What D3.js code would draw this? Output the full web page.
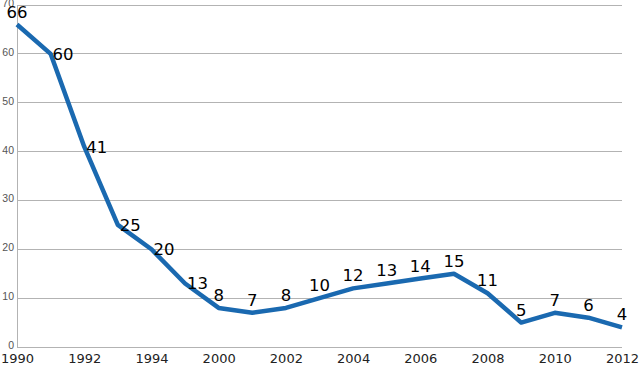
<!DOCTYPE html>
<html><head><meta charset="utf-8">
<script src="https://cdn.jsdelivr.net/npm/d3@7"></script>
<style>body{margin:0;background:#fff}svg{display:block}</style>
</head><body>
<svg id="c" width="640" height="368"></svg>
<script>
const categories = ["1990","1991","1992","1993","1994","1995","2000","2001","2002","2003","2004","2005","2006","2007","2008","2009","2010","2011","2012"];
const values = [66,60,41,25,20,13,8,7,8,10,12,13,14,15,11,5,7,6,4];
const xTickLabels = ["1990","1992","1994","2000","2002","2004","2006","2008","2010","2012"];
const yTicks = [0,10,20,30,40,50,60,70];
const labelRight = ["1991","1992","1993","1994","1995"];

const svg = d3.select("#c");
const x = d3.scalePoint().domain(categories).range([17, 622]);
const y = d3.scaleLinear().domain([0,70]).range([347, 5]);

// gridlines
svg.append("g").selectAll("line").data(yTicks).join("line")
  .attr("x1", 17).attr("x2", 622)
  .attr("y1", d => y(d)).attr("y2", d => y(d))
  .attr("stroke", "#b3b3b3").attr("stroke-width", 1).attr("shape-rendering","crispEdges");

// y axis line
svg.append("line").attr("x1",17).attr("x2",17).attr("y1",y(70)).attr("y2",y(0))
  .attr("stroke","#b3b3b3").attr("shape-rendering","crispEdges");

// y labels
svg.append("g").selectAll("text").data(yTicks).join("text")
  .attr("x", 14).attr("y", d => y(d) + 2)
  .attr("text-anchor","end").attr("font-family","Liberation Sans, Arial, sans-serif")
  .attr("font-size", 10.5).attr("fill","#555").text(d => d);

// x labels
const xAxis = d3.axisBottom(x).tickValues(xTickLabels).tickSize(0).tickPadding(0);
const gx = svg.append("g").attr("transform", `translate(0,${y(0)})`).call(xAxis);
gx.select(".domain").remove();
gx.selectAll("text").attr("font-family","DejaVu Sans, sans-serif").attr("font-size",13)
  .attr("fill","#222").attr("dy", "1.25em");

// line
const line = d3.line().x((d,i)=>x(categories[i])).y(d=>y(d));
svg.append("path").datum(values).attr("d", line)
  .attr("fill","none").attr("stroke","#1a69b0").attr("stroke-width",4.5)
  .attr("stroke-linejoin","round").attr("stroke-linecap","butt");

// data labels
svg.append("g").selectAll("text").data(values).join("text")
  .each(function(d,i){
    const c = categories[i];
    const sel = d3.select(this);
    if (labelRight.includes(c)) {
      sel.attr("x", x(c) + 2).attr("y", y(d)).attr("dy","0.36em").attr("text-anchor","start");
    } else {
      sel.attr("x", x(c)).attr("y", y(d) - 7).attr("text-anchor","middle");
    }
  })
  .attr("font-family","DejaVu Sans, sans-serif").attr("font-size",16.5).attr("fill","#000")
  .text(d => d);
</script>
</body></html>
